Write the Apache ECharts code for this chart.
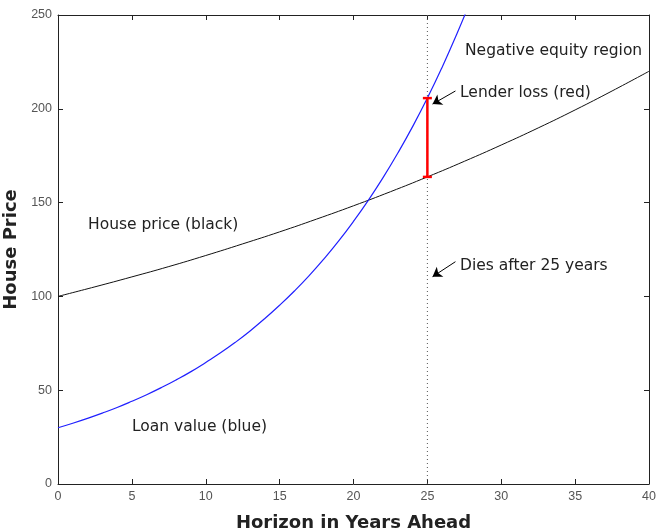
<!DOCTYPE html>
<html>
<head>
<meta charset="utf-8">
<script src="https://cdn.jsdelivr.net/npm/echarts@6/dist/echarts.min.js"></script>
<style>
  html, body { margin: 0; padding: 0; background: #fff; }
  #chart { width: 657px; height: 531px; }
</style>
</head>
<body>
<div id="chart"></div>
<script>
// values
const years = [0, 2.5, 5, 7.5, 10, 12.5, 15, 17.5, 20, 22.5, 25, 27.5, 30, 32.5, 35, 37.5, 40]
const housePrice = [100, 105.1, 110.4, 115.9, 121.8, 128, 134.4, 141.2, 148.3, 155.8, 163.7, 172, 180.7, 189.8, 199.4, 209.5, 220]
const loanYears = [0, 1, 2, 3, 4, 5, 6, 7, 8, 9, 10, 11, 12, 13, 14, 15, 16, 17, 18, 19, 20, 21, 22, 23, 24, 25, 26, 27, 28]
const loanValue = [30, 32.4, 35, 37.8, 40.8, 44.1, 47.6, 51.4, 55.5, 59.9, 64.8, 69.9, 75.5, 81.6, 88.2, 95.3, 102.9, 111.1, 120, 129.6, 140, 151.2, 163.3, 176.4, 190.5, 205.7, 222.2, 240, 259]
const deathYear = 25
const lenderLoss = [163.7, 205.7]
const xTicks = [0, 5, 10, 15, 20, 25, 30, 35, 40]
const yTicks = [0, 50, 100, 150, 200, 250]

const chart = echarts.init(document.getElementById('chart'))

const tickFont = { fontFamily: 'Liberation Sans', fontSize: 12.5, color: '#555' }
const titleFont = { fontFamily: 'DejaVu Sans', fontSize: 18, fontWeight: 'bold', color: '#222' }
const noteFont = { fontFamily: 'DejaVu Sans', fontSize: 15.5, fill: '#222' }

function pairs(xs, ys) {
  return ys.map((y, i) => [xs[i], y])
}

const baseAxis = {
  type: 'value',
  axisLine: { show: true, onZero: false, lineStyle: { color: '#222', width: 1 } },
  axisTick: { show: true, inside: true, length: 5, lineStyle: { color: '#222' } },
  splitLine: { show: false }
}

chart.setOption({
  animation: false,
  grid: { left: 58, right: 8, top: 15, bottom: 47, outerBoundsMode: 'none', containLabel: false },
  xAxis: [
    { ...baseAxis, min: 0, max: 40, interval: 5, position: 'bottom',
      axisLabel: { ...tickFont, margin: 6, formatter: (v) => xTicks.includes(v) ? v : '' },
      name: 'Horizon in Years Ahead', nameLocation: 'middle', nameGap: 30, nameTextStyle: titleFont },
    { ...baseAxis, min: 0, max: 40, interval: 5, position: 'top', axisLabel: { show: false } }
  ],
  yAxis: [
    { ...baseAxis, min: 0, max: 250, interval: 50, position: 'left',
      axisLabel: { ...tickFont, margin: 6, formatter: (v) => yTicks.includes(v) ? v : '' },
      name: 'House Price', nameLocation: 'middle', nameGap: 34, nameTextStyle: titleFont },
    { ...baseAxis, min: 0, max: 250, interval: 50, position: 'right', axisLabel: { show: false } }
  ],
  series: [
    {
      type: 'line', data: [[deathYear, 0], [deathYear, 250]], symbol: 'none', silent: true,
      lineStyle: { color: '#555', width: 1, type: [1, 3] }
    },
    {
      type: 'line', data: pairs(years, housePrice), smooth: true, symbol: 'none',
      lineStyle: { color: '#111', width: 1 }
    },
    {
      type: 'line', data: pairs(loanYears, loanValue), smooth: true, symbol: 'none', clip: true,
      lineStyle: { color: '#2020ff', width: 1.2 },
      markLine: {
        silent: true, symbol: ['none', 'arrow'], symbolSize: 9, label: { show: false },
        lineStyle: { color: '#000', width: 1, type: 'solid' },
        data: [
          [{ coord: [26.9, 209.5] }, { coord: [25.35, 202.5] }],
          [{ coord: [26.9, 118.5] }, { coord: [25.35, 110.5] }]
        ]
      }
    },
    {
      type: 'line', data: lenderLoss.map((v) => [deathYear, v]), symbol: 'rect', symbolSize: [9, 2.5],
      itemStyle: { color: '#ff0000' }, lineStyle: { color: '#ff0000', width: 2.5 }
    }
  ],
  graphic: [
    { type: 'text', left: 465, top: 43, style: { ...noteFont, text: 'Negative equity region' } },
    { type: 'text', left: 460, top: 85, style: { ...noteFont, text: 'Lender loss (red)' } },
    { type: 'text', left: 88, top: 217, style: { ...noteFont, text: 'House price (black)' } },
    { type: 'text', left: 460, top: 258, style: { ...noteFont, text: 'Dies after 25 years' } },
    { type: 'text', left: 132, top: 419, style: { ...noteFont, text: 'Loan value (blue)' } }
  ]
})
</script>
</body>
</html>
